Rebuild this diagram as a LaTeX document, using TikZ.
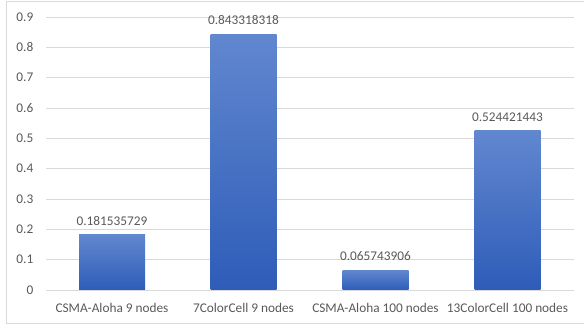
\documentclass[tikz,border=0pt]{standalone}
\usepackage{fontspec}
\setmainfont{Carlito}
\usetikzlibrary{positioning}
\definecolor{txtgray}{HTML}{595959}
\definecolor{gridgray}{HTML}{D9D9D9}
\definecolor{bartop}{HTML}{6187CF}
\definecolor{barbot}{HTML}{2E5CB8}

\begin{document}
\begin{tikzpicture}
[x=1pt,y=1pt,%
  every node/.style={text=txtgray,inner sep=0pt,font=\fontsize{13.3}{16}\selectfont},%
  gridline/.style={draw=gridgray,line width=0.9pt},%
  bar/.style={top color=bartop,bottom color=barbot,draw=none},%
  ticklabel/.style={anchor=east},%
  vallabel/.style={anchor=south},%
  catlabel/.style={anchor=base}]
\useasboundingbox (0,0) rectangle (584,329);
\draw[gridline] (584,6) -- (6,6) -- (6,328) -- (584,328);
\begin{scope}[shift={(0,39)},y=303.3pt]
\draw[gridline] (46,0) -- (574,0);
\draw[gridline] (46,0.1) -- (574,0.1);
\draw[gridline] (46,0.2) -- (574,0.2);
\draw[gridline] (46,0.3) -- (574,0.3);
\draw[gridline] (46,0.4) -- (574,0.4);
\draw[gridline] (46,0.5) -- (574,0.5);
\draw[gridline] (46,0.6) -- (574,0.6);
\draw[gridline] (46,0.7) -- (574,0.7);
\draw[gridline] (46,0.8) -- (574,0.8);
\draw[gridline] (46,0.9) -- (574,0.9);
\node[ticklabel] (t0) at (33.5,0) {0};
\node[ticklabel] (t1) at (33.5,0.1) {0.1};
\node[ticklabel] (t2) at (33.5,0.2) {0.2};
\node[ticklabel] (t3) at (33.5,0.3) {0.3};
\node[ticklabel] (t4) at (33.5,0.4) {0.4};
\node[ticklabel] (t5) at (33.5,0.5) {0.5};
\node[ticklabel] (t6) at (33.5,0.6) {0.6};
\node[ticklabel] (t7) at (33.5,0.7) {0.7};
\node[ticklabel] (t8) at (33.5,0.8) {0.8};
\node[ticklabel] (t9) at (33.5,0.9) {0.9};
\shade[bar] (79,0) rectangle (145,0.181535729);
\shade[bar] (210.5,0) rectangle (276.5,0.843318318);
\shade[bar] (342.5,0) rectangle (408.5,0.065743906);
\shade[bar] (474.5,0) rectangle (540.5,0.524421443);
\coordinate (top1) at (112,0.181535729);
\coordinate (top2) at (243.5,0.843318318);
\coordinate (top3) at (375.5,0.065743906);
\coordinate (top4) at (507.5,0.524421443);
\node[vallabel,above=9pt of top1] (val1) {0.181535729};
\node[vallabel,above=9pt of top2] (val2) {0.843318318};
\node[vallabel,above=9pt of top3] (val3) {0.065743906};
\node[vallabel,above=9pt of top4] (val4) {0.524421443};
\end{scope}
\node[catlabel] (cat1) at (112,16) {CSMA-Aloha 9 nodes};
\node[catlabel] (cat2) at (243.5,16) {7ColorCell 9 nodes};
\node[catlabel] (cat3) at (375.5,16) {CSMA-Aloha 100 nodes};
\node[catlabel] (cat4) at (507.5,16) {13ColorCell 100 nodes};
\end{tikzpicture}
\end{document}
